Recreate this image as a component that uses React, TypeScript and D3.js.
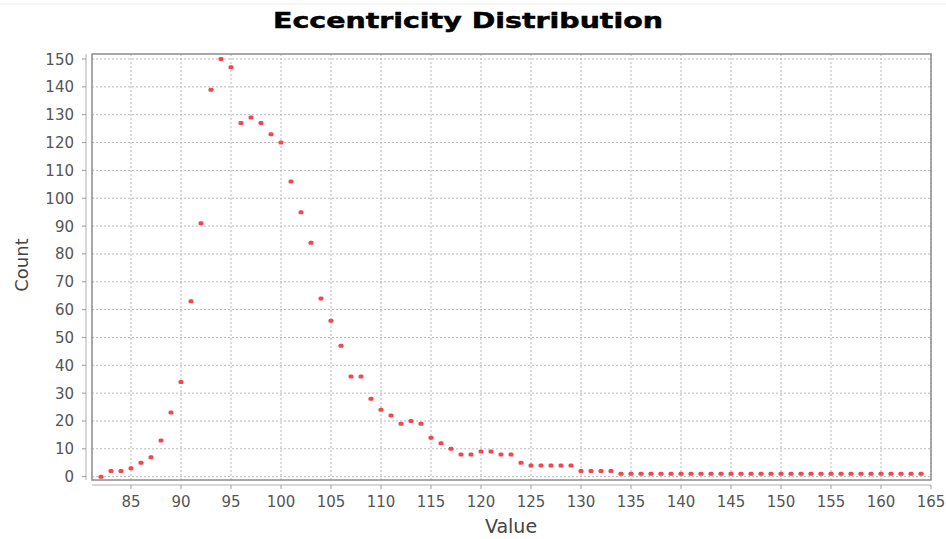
import React from "react";
import * as d3 from "d3";

// x values 82..164, one count per value
const values = d3.range(82, 165);
const counts = [
  0, 2, 2, 3, 5, 7, 13, 23, 34, 63, // 82-91
  91, 139, 150, 147, 127, 129, 127, 123, 120, 106, // 92-101
  95, 84, 64, 56, 47, 36, 36, 28, 24, 22, // 102-111
  19, 20, 19, 14, 12, 10, 8, 8, 9, 9, // 112-121
  8, 8, 5, 4, 4, 4, 4, 4, 2, 2, // 122-131
  2, 2, 1, 1, 1, 1, 1, 1, 1, 1, // 132-141
  1, 1, 1, 1, 1, 1, 1, 1, 1, 1, // 142-151
  1, 1, 1, 1, 1, 1, 1, 1, 1, 1, // 152-161
  1, 1, 1, // 162-164
];
const xTicks = d3.range(85, 166, 5);
const yTicks = d3.range(0, 151, 10);

const width = 946;
const height = 539;
const plot = { left: 92, right: 931, top: 54, bottom: 480 };
const font = "'DejaVu Sans', Verdana, sans-serif";

export default function App() {
  const x = d3.scaleLinear().domain([81.1, 165]).range([plot.left, plot.right]);
  const y = d3.scaleLinear().domain([-1.2, 151.8]).range([plot.bottom, plot.top]);

  const points = values.map((v, i) => ({ v, c: counts[i] }));

  return (
    <div style={{ position: "absolute", left: 0, top: 0 }}>
      <svg width={width} height={height} style={{ display: "block", background: "#fff" }}>
        <line x1={0} x2={width} y1={4} y2={4} stroke="#eeeeee" />

        {/* title */}
        <text
          x={468}
          y={28}
          textAnchor="middle"
          fontFamily={font}
          fontWeight="bold"
          fontSize={21}
          textLength={390}
          lengthAdjust="spacingAndGlyphs"
          fill="#000"
          stroke="#000"
          strokeWidth={0.5}
        >
          Eccentricity Distribution
        </text>

        {/* plot background + grid */}
        <rect x={plot.left} y={plot.top} width={plot.right - plot.left} height={plot.bottom - plot.top} fill="#fff" />
        {xTicks.map((t) => (
          <line
            key={`gx-${t}`}
            x1={x(t)}
            x2={x(t)}
            y1={plot.top}
            y2={plot.bottom}
            stroke="#b8b8b8"
            strokeWidth={1}
            strokeDasharray="2,2"
          />
        ))}
        {yTicks.map((t) => (
          <line
            key={`gy-${t}`}
            x1={plot.left}
            x2={plot.right}
            y1={y(t)}
            y2={y(t)}
            stroke="#b8b8b8"
            strokeWidth={1}
            strokeDasharray="2,2"
          />
        ))}

        {/* points */}
        {points.map((p) => (
          <rect
            key={p.v}
            x={x(p.v) - 2.5}
            y={y(p.c) - 2}
            width={5}
            height={4}
            rx={1.5}
            fill="#f2474f"
          />
        ))}

        {/* frame */}
        <rect
          x={plot.left}
          y={plot.top}
          width={plot.right - plot.left}
          height={plot.bottom - plot.top}
          fill="none"
          stroke="#8c8c8c"
          strokeWidth={1.5}
        />

        {/* y axis */}
        <line x1={86} x2={86} y1={plot.top} y2={plot.bottom} stroke="#b0b0b0" strokeWidth={1} />
        {yTicks.map((t) => (
          <g key={`ty-${t}`}>
            <line x1={82} x2={86} y1={y(t)} y2={y(t)} stroke="#999" />
            <text
              x={74}
              y={y(t) + 5.5}
              textAnchor="end"
              fontFamily={font}
              fontSize={15}
              fill="#555"
            >
              {t}
            </text>
          </g>
        ))}

        {/* x axis */}
        <line x1={plot.left} x2={plot.right} y1={485} y2={485} stroke="#b0b0b0" strokeWidth={1} />
        {xTicks.map((t) => (
          <g key={`tx-${t}`}>
            <line x1={x(t)} x2={x(t)} y1={485} y2={489} stroke="#999" />
            <text x={x(t)} y={507} textAnchor="middle" fontFamily={font} fontSize={15} fill="#555">
              {t}
            </text>
          </g>
        ))}

        {/* axis labels */}
        <text x={511} y={533} textAnchor="middle" fontFamily={font} fontSize={19} fill="#444">
          Value
        </text>
        <text
          transform="translate(28,265) rotate(-90)"
          textAnchor="middle"
          fontFamily={font}
          fontSize={18}
          fill="#444"
        >
          Count
        </text>
      </svg>
    </div>
  );
}
